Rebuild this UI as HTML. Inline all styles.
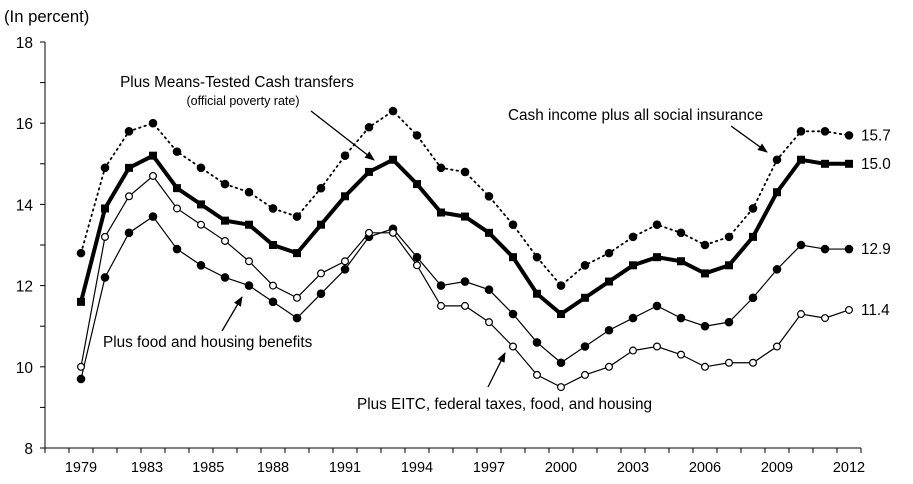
<!DOCTYPE html>
<html><head><meta charset="utf-8"><style>
body{margin:0;background:#fff}
svg{display:block;font-family:"Liberation Sans",Arial,sans-serif}
</style></head><body>
<svg id="chart" width="913" height="484">
<defs><marker id="ah" markerWidth="10" markerHeight="8" refX="9" refY="4" orient="auto" markerUnits="userSpaceOnUse"><path d="M0,0 L10,4 L0,8 z" fill="#000"/></marker></defs>
<text x="4" y="22" font-size="16.7">(In percent)</text>
<g id="axes"></g>
<g id="series"></g>
<text x="237" y="87" font-size="15.3" text-anchor="middle">Plus Means-Tested Cash transfers</text>
<text x="243" y="105" font-size="12.5" text-anchor="middle">(official poverty rate)</text>
<line x1="311" y1="111" x2="374" y2="160" stroke="#000" stroke-width="1.3" marker-end="url(#ah)"/>
<text x="508" y="120" font-size="15.3">Cash income plus all social insurance</text>
<line x1="731" y1="126" x2="767" y2="152" stroke="#000" stroke-width="1.3" marker-end="url(#ah)"/>
<text x="103" y="347" font-size="15.3">Plus food and housing benefits</text>
<line x1="222" y1="331" x2="242" y2="297" stroke="#000" stroke-width="1.3" marker-end="url(#ah)"/>
<text x="357" y="409" font-size="15.3">Plus EITC, federal taxes, food, and housing</text>
<line x1="488" y1="387" x2="505" y2="353" stroke="#000" stroke-width="1.3" marker-end="url(#ah)"/>
</svg>
<script>
const years=[1979,1981,1982,1983,1984,1985,1986,1987,1988,1989,1990,1991,1992,1993,1994,1995,1996,1997,1998,1999,2000,2001,2002,2003,2004,2005,2006,2007,2008,2009,2010,2011,2012];
const socialInsurance=[12.8,14.9,15.8,16.0,15.3,14.9,14.5,14.3,13.9,13.7,14.4,15.2,15.9,16.3,15.7,14.9,14.8,14.2,13.5,12.7,12.0,12.5,12.8,13.2,13.5,13.3,13.0,13.2,13.9,15.1,15.8,15.8,15.7];
const officialRate=[11.6,13.9,14.9,15.2,14.4,14.0,13.6,13.5,13.0,12.8,13.5,14.2,14.8,15.1,14.5,13.8,13.7,13.3,12.7,11.8,11.3,11.7,12.1,12.5,12.7,12.6,12.3,12.5,13.2,14.3,15.1,15.0,15.0];
const foodHousing=[9.7,12.2,13.3,13.7,12.9,12.5,12.2,12.0,11.6,11.2,11.8,12.4,13.2,13.4,12.7,12.0,12.1,11.9,11.3,10.6,10.1,10.5,10.9,11.2,11.5,11.2,11.0,11.1,11.7,12.4,13.0,12.9,12.9];
const eitcAll=[10.0,13.2,14.2,14.7,13.9,13.5,13.1,12.6,12.0,11.7,12.3,12.6,13.3,13.3,12.5,11.5,11.5,11.1,10.5,9.8,9.5,9.8,10.0,10.4,10.5,10.3,10.0,10.1,10.1,10.5,11.3,11.2,11.4];
const xTickLabels=["1979","1983","1985","1988","1991","1994","1997","2000","2003","2006","2009","2012"];
const xTickIndex=[0,2.75,5.3,8,11,14,17,20,23,26,29,32];
const yTicks=[8,10,12,14,16,18];

const NS="http://www.w3.org/2000/svg";
const X0=45,SLOT=24,Y0=448,YT=42,VMIN=8,VMAX=18;
const xs=i=>X0+SLOT*(i+1.5);
const ys=v=>Y0-(v-VMIN)/(VMAX-VMIN)*(Y0-YT);
function mk(tag,attrs,parent){const e=document.createElementNS(NS,tag);for(const k in attrs)e.setAttribute(k,attrs[k]);parent.appendChild(e);return e;}
const ax=document.getElementById('axes'),sg=document.getElementById('series');
let e=mk('line',{x1:X0,y1:YT,x2:X0,y2:Y0,stroke:'#000','stroke-width':1},ax);


e=mk('line',{x1:X0,y1:Y0,x2:X0+SLOT*34,y2:Y0,stroke:'#000','stroke-width':1},ax);


for(let v=VMIN;v<=VMAX;v++){mk('line',{x1:X0-5,y1:ys(v),x2:X0,y2:ys(v),stroke:'#000'},ax);}
yTicks.forEach(v=>{const t=mk('text',{x:X0-12,y:ys(v)+6,'font-size':15.5,'text-anchor':'end'},ax);t.textContent=v;

});
for(let k=0;k<=34;k++){mk('line',{x1:X0+SLOT*k,y1:Y0,x2:X0+SLOT*k,y2:Y0+5,stroke:'#000'},ax);}
xTickLabels.forEach((l,k)=>{const t=mk('text',{x:xs(xTickIndex[k]),y:Y0+24,'font-size':14.5,'text-anchor':'middle'},ax);t.textContent=l;

});
function series(vals,name,opt){
  const g=mk('g',{},sg);
  
  
  const p=vals.map((v,i)=>(i?'L':'M')+xs(i)+','+ys(v)).join('');
  const pa={d:p,fill:'none',stroke:'#000','stroke-width':opt.w};
  if(opt.dash){pa['stroke-dasharray']='1.5 4';pa['stroke-linecap']='round';}
  mk('path',pa,g);
  vals.forEach((v,i)=>{let m;
    if(opt.m==='sq')m=mk('rect',{x:xs(i)-4,y:ys(v)-4,width:8,height:8,fill:'#000'},g);
    else m=mk('circle',{cx:xs(i),cy:ys(v),r:opt.m==='open'?3.4:3.7,fill:opt.m==='open'?'#fff':'#000',stroke:'#000','stroke-width':1.2},g);
    
    
  });
  if(opt.label){const t=mk('text',{x:xs(vals.length-1)+12,y:ys(vals[vals.length-1])+5,'font-size':15.3},g);t.textContent=vals[vals.length-1].toFixed(1);
    
    }
}
series(socialInsurance,'series-social-insurance',{w:1.8,dash:true,m:'dot',label:true});
series(officialRate,'series-official-rate',{w:4,m:'sq',label:true});
series(foodHousing,'series-food-housing',{w:1.2,m:'dot',label:true});
series(eitcAll,'series-eitc-taxes',{w:1.2,m:'open',label:true});
</script>
</body></html>
